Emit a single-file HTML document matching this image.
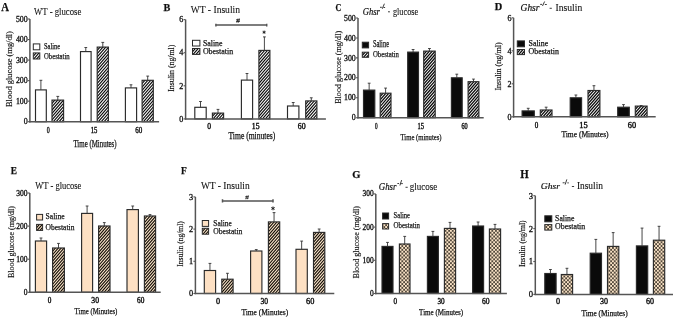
<!DOCTYPE html>
<html><head><meta charset="utf-8"><style>
html,body{margin:0;padding:0;background:#fff;}
svg{display:block;will-change:transform;}
text{font-family:"Liberation Serif", serif;}
</style></head><body>
<svg width="675" height="319" viewBox="0 0 675 319">
<rect width="675" height="319" fill="#fff"/>
<defs>
<pattern id="hw" patternUnits="userSpaceOnUse" width="2.2" height="10" patternTransform="rotate(41)"><rect width="2.2" height="10" fill="#fff"/><rect width="1.05" height="10" fill="#0d0d0d"/></pattern>
<pattern id="hp" patternUnits="userSpaceOnUse" width="2.2" height="10" patternTransform="rotate(41)"><rect width="2.2" height="10" fill="#fbe6cc"/><rect width="1.0" height="10" fill="#120c05"/></pattern>
<pattern id="ck" patternUnits="userSpaceOnUse" width="3.6" height="3.8"><rect width="3.6" height="3.8" fill="#fae3c6"/><rect x="0.15" y="0.15" width="1.55" height="1.6" fill="#150f08"/><rect x="1.95" y="2.05" width="1.55" height="1.6" fill="#150f08"/></pattern>
</defs>
<filter id="bl" x="0" y="0" width="675" height="319" filterUnits="userSpaceOnUse"><feGaussianBlur stdDeviation="0.35"/></filter>
<rect x="35.50" y="89.90" width="10.80" height="31.80" fill="#fff" stroke="#2a2a2a" stroke-width="1.15"/>
<clipPath id="c1"><rect x="52.00" y="100.10" width="11.60" height="21.60"/></clipPath>
<rect x="52.00" y="100.10" width="11.60" height="21.60" fill="#fff"/>
<path clip-path="url(#c1)" d="M51.00 101.25 L64.60 85.61 M51.00 104.55 L64.60 88.91 M51.00 107.85 L64.60 92.21 M51.00 111.15 L64.60 95.51 M51.00 114.45 L64.60 98.81 M51.00 117.75 L64.60 102.11 M51.00 121.05 L64.60 105.41 M51.00 124.35 L64.60 108.71 M51.00 127.65 L64.60 112.01 M51.00 130.95 L64.60 115.31 M51.00 134.25 L64.60 118.61 M51.00 137.55 L64.60 121.91 " stroke="#0d0d0d" stroke-width="1.15" fill="none"/>
<rect x="52.00" y="100.10" width="11.60" height="21.60" fill="none" stroke="#2a2a2a" stroke-width="1.15"/>
<rect x="80.50" y="51.60" width="10.60" height="70.10" fill="#fff" stroke="#2a2a2a" stroke-width="1.15"/>
<clipPath id="c2"><rect x="97.20" y="47.10" width="11.20" height="74.60"/></clipPath>
<rect x="97.20" y="47.10" width="11.20" height="74.60" fill="#fff"/>
<path clip-path="url(#c2)" d="M96.20 48.25 L109.40 33.07 M96.20 51.55 L109.40 36.37 M96.20 54.85 L109.40 39.67 M96.20 58.15 L109.40 42.97 M96.20 61.45 L109.40 46.27 M96.20 64.75 L109.40 49.57 M96.20 68.05 L109.40 52.87 M96.20 71.35 L109.40 56.17 M96.20 74.65 L109.40 59.47 M96.20 77.95 L109.40 62.77 M96.20 81.25 L109.40 66.07 M96.20 84.55 L109.40 69.37 M96.20 87.85 L109.40 72.67 M96.20 91.15 L109.40 75.97 M96.20 94.45 L109.40 79.27 M96.20 97.75 L109.40 82.57 M96.20 101.05 L109.40 85.87 M96.20 104.35 L109.40 89.17 M96.20 107.65 L109.40 92.47 M96.20 110.95 L109.40 95.77 M96.20 114.25 L109.40 99.07 M96.20 117.55 L109.40 102.37 M96.20 120.85 L109.40 105.67 M96.20 124.15 L109.40 108.97 M96.20 127.45 L109.40 112.27 M96.20 130.75 L109.40 115.57 M96.20 134.05 L109.40 118.87 M96.20 137.35 L109.40 122.17 " stroke="#0d0d0d" stroke-width="1.15" fill="none"/>
<rect x="97.20" y="47.10" width="11.20" height="74.60" fill="none" stroke="#2a2a2a" stroke-width="1.15"/>
<rect x="125.40" y="87.90" width="11.20" height="33.80" fill="#fff" stroke="#2a2a2a" stroke-width="1.15"/>
<clipPath id="c3"><rect x="142.10" y="80.30" width="11.20" height="41.40"/></clipPath>
<rect x="142.10" y="80.30" width="11.20" height="41.40" fill="#fff"/>
<path clip-path="url(#c3)" d="M141.10 81.45 L154.30 66.27 M141.10 84.75 L154.30 69.57 M141.10 88.05 L154.30 72.87 M141.10 91.35 L154.30 76.17 M141.10 94.65 L154.30 79.47 M141.10 97.95 L154.30 82.77 M141.10 101.25 L154.30 86.07 M141.10 104.55 L154.30 89.37 M141.10 107.85 L154.30 92.67 M141.10 111.15 L154.30 95.97 M141.10 114.45 L154.30 99.27 M141.10 117.75 L154.30 102.57 M141.10 121.05 L154.30 105.87 M141.10 124.35 L154.30 109.17 M141.10 127.65 L154.30 112.47 M141.10 130.95 L154.30 115.77 M141.10 134.25 L154.30 119.07 M141.10 137.55 L154.30 122.37 " stroke="#0d0d0d" stroke-width="1.15" fill="none"/>
<rect x="142.10" y="80.30" width="11.20" height="41.40" fill="none" stroke="#2a2a2a" stroke-width="1.15"/>
<rect x="33.30" y="43.90" width="6.50" height="5.90" fill="#fff" stroke="#2a2a2a" stroke-width="1.0"/>
<clipPath id="c4"><rect x="33.30" y="52.90" width="6.50" height="6.10"/></clipPath>
<rect x="33.30" y="52.90" width="6.50" height="6.10" fill="#fff"/>
<path clip-path="url(#c4)" d="M32.30 54.05 L40.80 44.27 M32.30 57.35 L40.80 47.57 M32.30 60.65 L40.80 50.87 M32.30 63.95 L40.80 54.17 M32.30 67.25 L40.80 57.47 M32.30 70.55 L40.80 60.77 " stroke="#0d0d0d" stroke-width="1.15" fill="none"/>
<rect x="33.30" y="52.90" width="6.50" height="6.10" fill="none" stroke="#2a2a2a" stroke-width="1.0"/>
<rect x="194.80" y="107.30" width="11.40" height="11.60" fill="#fff" stroke="#2a2a2a" stroke-width="1.15"/>
<clipPath id="c5"><rect x="212.40" y="113.10" width="11.20" height="5.80"/></clipPath>
<rect x="212.40" y="113.10" width="11.20" height="5.80" fill="#fff"/>
<path clip-path="url(#c5)" d="M211.40 114.25 L224.60 99.07 M211.40 117.55 L224.60 102.37 M211.40 120.85 L224.60 105.67 M211.40 124.15 L224.60 108.97 M211.40 127.45 L224.60 112.27 M211.40 130.75 L224.60 115.57 M211.40 134.05 L224.60 118.87 " stroke="#0d0d0d" stroke-width="1.15" fill="none"/>
<rect x="212.40" y="113.10" width="11.20" height="5.80" fill="none" stroke="#2a2a2a" stroke-width="1.15"/>
<rect x="241.40" y="80.10" width="11.20" height="38.80" fill="#fff" stroke="#2a2a2a" stroke-width="1.15"/>
<clipPath id="c6"><rect x="258.90" y="50.40" width="11.00" height="68.50"/></clipPath>
<rect x="258.90" y="50.40" width="11.00" height="68.50" fill="#fff"/>
<path clip-path="url(#c6)" d="M257.90 51.55 L270.90 36.60 M257.90 54.85 L270.90 39.90 M257.90 58.15 L270.90 43.20 M257.90 61.45 L270.90 46.50 M257.90 64.75 L270.90 49.80 M257.90 68.05 L270.90 53.10 M257.90 71.35 L270.90 56.40 M257.90 74.65 L270.90 59.70 M257.90 77.95 L270.90 63.00 M257.90 81.25 L270.90 66.30 M257.90 84.55 L270.90 69.60 M257.90 87.85 L270.90 72.90 M257.90 91.15 L270.90 76.20 M257.90 94.45 L270.90 79.50 M257.90 97.75 L270.90 82.80 M257.90 101.05 L270.90 86.10 M257.90 104.35 L270.90 89.40 M257.90 107.65 L270.90 92.70 M257.90 110.95 L270.90 96.00 M257.90 114.25 L270.90 99.30 M257.90 117.55 L270.90 102.60 M257.90 120.85 L270.90 105.90 M257.90 124.15 L270.90 109.20 M257.90 127.45 L270.90 112.50 M257.90 130.75 L270.90 115.80 M257.90 134.05 L270.90 119.10 " stroke="#0d0d0d" stroke-width="1.15" fill="none"/>
<rect x="258.90" y="50.40" width="11.00" height="68.50" fill="none" stroke="#2a2a2a" stroke-width="1.15"/>
<rect x="287.50" y="106.00" width="11.40" height="12.90" fill="#fff" stroke="#2a2a2a" stroke-width="1.15"/>
<clipPath id="c7"><rect x="305.70" y="100.90" width="11.20" height="18.00"/></clipPath>
<rect x="305.70" y="100.90" width="11.20" height="18.00" fill="#fff"/>
<path clip-path="url(#c7)" d="M304.70 102.05 L317.90 86.87 M304.70 105.35 L317.90 90.17 M304.70 108.65 L317.90 93.47 M304.70 111.95 L317.90 96.77 M304.70 115.25 L317.90 100.07 M304.70 118.55 L317.90 103.37 M304.70 121.85 L317.90 106.67 M304.70 125.15 L317.90 109.97 M304.70 128.45 L317.90 113.27 M304.70 131.75 L317.90 116.57 M304.70 135.05 L317.90 119.87 " stroke="#0d0d0d" stroke-width="1.15" fill="none"/>
<rect x="305.70" y="100.90" width="11.20" height="18.00" fill="none" stroke="#2a2a2a" stroke-width="1.15"/>
<rect x="192.50" y="40.30" width="7.40" height="5.70" fill="#fff" stroke="#2a2a2a" stroke-width="1.0"/>
<clipPath id="c8"><rect x="192.50" y="48.50" width="7.40" height="5.90"/></clipPath>
<rect x="192.50" y="48.50" width="7.40" height="5.90" fill="#fff"/>
<path clip-path="url(#c8)" d="M191.50 49.65 L200.90 38.84 M191.50 52.95 L200.90 42.14 M191.50 56.25 L200.90 45.44 M191.50 59.55 L200.90 48.74 M191.50 62.85 L200.90 52.04 M191.50 66.15 L200.90 55.34 " stroke="#0d0d0d" stroke-width="1.15" fill="none"/>
<rect x="192.50" y="48.50" width="7.40" height="5.90" fill="none" stroke="#2a2a2a" stroke-width="1.0"/>
<rect x="363.50" y="90.10" width="11.30" height="27.60" fill="#0a0a0a" stroke="#2a2a2a" stroke-width="1.15"/>
<clipPath id="c9"><rect x="380.20" y="93.20" width="10.80" height="24.50"/></clipPath>
<rect x="380.20" y="93.20" width="10.80" height="24.50" fill="#fff"/>
<path clip-path="url(#c9)" d="M379.20 94.35 L392.00 79.63 M379.20 97.65 L392.00 82.93 M379.20 100.95 L392.00 86.23 M379.20 104.25 L392.00 89.53 M379.20 107.55 L392.00 92.83 M379.20 110.85 L392.00 96.13 M379.20 114.15 L392.00 99.43 M379.20 117.45 L392.00 102.73 M379.20 120.75 L392.00 106.03 M379.20 124.05 L392.00 109.33 M379.20 127.35 L392.00 112.63 M379.20 130.65 L392.00 115.93 M379.20 133.95 L392.00 119.23 " stroke="#0d0d0d" stroke-width="1.3" fill="none"/>
<rect x="380.20" y="93.20" width="10.80" height="24.50" fill="none" stroke="#2a2a2a" stroke-width="1.15"/>
<rect x="407.70" y="52.10" width="10.80" height="65.60" fill="#0a0a0a" stroke="#2a2a2a" stroke-width="1.15"/>
<clipPath id="c10"><rect x="423.70" y="51.10" width="11.50" height="66.60"/></clipPath>
<rect x="423.70" y="51.10" width="11.50" height="66.60" fill="#fff"/>
<path clip-path="url(#c10)" d="M422.70 52.25 L436.20 36.73 M422.70 55.55 L436.20 40.02 M422.70 58.85 L436.20 43.32 M422.70 62.15 L436.20 46.62 M422.70 65.45 L436.20 49.92 M422.70 68.75 L436.20 53.22 M422.70 72.05 L436.20 56.52 M422.70 75.35 L436.20 59.82 M422.70 78.65 L436.20 63.12 M422.70 81.95 L436.20 66.42 M422.70 85.25 L436.20 69.72 M422.70 88.55 L436.20 73.02 M422.70 91.85 L436.20 76.32 M422.70 95.15 L436.20 79.62 M422.70 98.45 L436.20 82.92 M422.70 101.75 L436.20 86.22 M422.70 105.05 L436.20 89.52 M422.70 108.35 L436.20 92.82 M422.70 111.65 L436.20 96.12 M422.70 114.95 L436.20 99.42 M422.70 118.25 L436.20 102.72 M422.70 121.55 L436.20 106.02 M422.70 124.85 L436.20 109.32 M422.70 128.15 L436.20 112.62 M422.70 131.45 L436.20 115.92 M422.70 134.75 L436.20 119.22 " stroke="#0d0d0d" stroke-width="1.3" fill="none"/>
<rect x="423.70" y="51.10" width="11.50" height="66.60" fill="none" stroke="#2a2a2a" stroke-width="1.15"/>
<rect x="451.40" y="77.80" width="10.80" height="39.90" fill="#0a0a0a" stroke="#2a2a2a" stroke-width="1.15"/>
<clipPath id="c11"><rect x="468.10" y="81.70" width="10.80" height="36.00"/></clipPath>
<rect x="468.10" y="81.70" width="10.80" height="36.00" fill="#fff"/>
<path clip-path="url(#c11)" d="M467.10 82.85 L479.90 68.13 M467.10 86.15 L479.90 71.43 M467.10 89.45 L479.90 74.73 M467.10 92.75 L479.90 78.03 M467.10 96.05 L479.90 81.33 M467.10 99.35 L479.90 84.63 M467.10 102.65 L479.90 87.93 M467.10 105.95 L479.90 91.23 M467.10 109.25 L479.90 94.53 M467.10 112.55 L479.90 97.83 M467.10 115.85 L479.90 101.13 M467.10 119.15 L479.90 104.43 M467.10 122.45 L479.90 107.73 M467.10 125.75 L479.90 111.03 M467.10 129.05 L479.90 114.33 M467.10 132.35 L479.90 117.63 " stroke="#0d0d0d" stroke-width="1.3" fill="none"/>
<rect x="468.10" y="81.70" width="10.80" height="36.00" fill="none" stroke="#2a2a2a" stroke-width="1.15"/>
<rect x="362.30" y="42.20" width="6.30" height="5.70" fill="#0a0a0a" stroke="#2a2a2a" stroke-width="1.0"/>
<clipPath id="c12"><rect x="362.30" y="52.20" width="6.30" height="5.10"/></clipPath>
<rect x="362.30" y="52.20" width="6.30" height="5.10" fill="#fff"/>
<path clip-path="url(#c12)" d="M361.30 53.35 L369.60 43.80 M361.30 56.65 L369.60 47.10 M361.30 59.95 L369.60 50.40 M361.30 63.25 L369.60 53.70 M361.30 66.55 L369.60 57.00 " stroke="#0d0d0d" stroke-width="1.3" fill="none"/>
<rect x="362.30" y="52.20" width="6.30" height="5.10" fill="none" stroke="#2a2a2a" stroke-width="1.0"/>
<rect x="522.10" y="110.90" width="12.20" height="5.90" fill="#0a0a0a" stroke="#2a2a2a" stroke-width="1.15"/>
<clipPath id="c13"><rect x="540.30" y="110.00" width="11.70" height="6.80"/></clipPath>
<rect x="540.30" y="110.00" width="11.70" height="6.80" fill="#fff"/>
<path clip-path="url(#c13)" d="M539.30 111.15 L553.00 95.39 M539.30 114.45 L553.00 98.69 M539.30 117.75 L553.00 101.99 M539.30 121.05 L553.00 105.29 M539.30 124.35 L553.00 108.59 M539.30 127.65 L553.00 111.89 M539.30 130.95 L553.00 115.19 M539.30 134.25 L553.00 118.49 " stroke="#0d0d0d" stroke-width="1.3" fill="none"/>
<rect x="540.30" y="110.00" width="11.70" height="6.80" fill="none" stroke="#2a2a2a" stroke-width="1.15"/>
<rect x="570.20" y="97.80" width="11.40" height="19.00" fill="#0a0a0a" stroke="#2a2a2a" stroke-width="1.15"/>
<clipPath id="c14"><rect x="588.00" y="90.50" width="11.90" height="26.30"/></clipPath>
<rect x="588.00" y="90.50" width="11.90" height="26.30" fill="#fff"/>
<path clip-path="url(#c14)" d="M587.00 91.65 L600.90 75.67 M587.00 94.95 L600.90 78.97 M587.00 98.25 L600.90 82.27 M587.00 101.55 L600.90 85.57 M587.00 104.85 L600.90 88.87 M587.00 108.15 L600.90 92.17 M587.00 111.45 L600.90 95.47 M587.00 114.75 L600.90 98.77 M587.00 118.05 L600.90 102.06 M587.00 121.35 L600.90 105.37 M587.00 124.65 L600.90 108.66 M587.00 127.95 L600.90 111.97 M587.00 131.25 L600.90 115.26 M587.00 134.55 L600.90 118.56 " stroke="#0d0d0d" stroke-width="1.3" fill="none"/>
<rect x="588.00" y="90.50" width="11.90" height="26.30" fill="none" stroke="#2a2a2a" stroke-width="1.15"/>
<rect x="617.70" y="107.20" width="11.60" height="9.60" fill="#0a0a0a" stroke="#2a2a2a" stroke-width="1.15"/>
<clipPath id="c15"><rect x="635.30" y="106.10" width="11.80" height="10.70"/></clipPath>
<rect x="635.30" y="106.10" width="11.80" height="10.70" fill="#fff"/>
<path clip-path="url(#c15)" d="M634.30 107.25 L648.10 91.38 M634.30 110.55 L648.10 94.68 M634.30 113.85 L648.10 97.98 M634.30 117.15 L648.10 101.28 M634.30 120.45 L648.10 104.58 M634.30 123.75 L648.10 107.88 M634.30 127.05 L648.10 111.18 M634.30 130.35 L648.10 114.48 M634.30 133.65 L648.10 117.78 " stroke="#0d0d0d" stroke-width="1.3" fill="none"/>
<rect x="635.30" y="106.10" width="11.80" height="10.70" fill="none" stroke="#2a2a2a" stroke-width="1.15"/>
<rect x="517.30" y="40.90" width="7.20" height="5.90" fill="#0a0a0a" stroke="#2a2a2a" stroke-width="1.0"/>
<clipPath id="c16"><rect x="517.30" y="49.50" width="7.20" height="5.10"/></clipPath>
<rect x="517.30" y="49.50" width="7.20" height="5.10" fill="#fff"/>
<path clip-path="url(#c16)" d="M516.30 50.65 L525.50 40.07 M516.30 53.95 L525.50 43.37 M516.30 57.25 L525.50 46.67 M516.30 60.55 L525.50 49.97 M516.30 63.85 L525.50 53.27 M516.30 67.15 L525.50 56.57 " stroke="#0d0d0d" stroke-width="1.3" fill="none"/>
<rect x="517.30" y="49.50" width="7.20" height="5.10" fill="none" stroke="#2a2a2a" stroke-width="1.0"/>
<rect x="35.40" y="241.00" width="11.20" height="51.30" fill="#fde0c3" stroke="#2a2a2a" stroke-width="1.15"/>
<clipPath id="c17"><rect x="52.60" y="248.00" width="11.80" height="44.30"/></clipPath>
<rect x="52.60" y="248.00" width="11.80" height="44.30" fill="#fbe6cc"/>
<path clip-path="url(#c17)" d="M51.60 249.15 L65.40 233.28 M51.60 252.45 L65.40 236.58 M51.60 255.75 L65.40 239.88 M51.60 259.05 L65.40 243.18 M51.60 262.35 L65.40 246.48 M51.60 265.65 L65.40 249.78 M51.60 268.95 L65.40 253.08 M51.60 272.25 L65.40 256.38 M51.60 275.55 L65.40 259.68 M51.60 278.85 L65.40 262.98 M51.60 282.15 L65.40 266.28 M51.60 285.45 L65.40 269.58 M51.60 288.75 L65.40 272.88 M51.60 292.05 L65.40 276.18 M51.60 295.35 L65.40 279.48 M51.60 298.65 L65.40 282.78 M51.60 301.95 L65.40 286.08 M51.60 305.25 L65.40 289.38 M51.60 308.55 L65.40 292.68 " stroke="#120c05" stroke-width="1.1" fill="none"/>
<rect x="52.60" y="248.00" width="11.80" height="44.30" fill="none" stroke="#2a2a2a" stroke-width="1.15"/>
<rect x="81.60" y="213.40" width="11.00" height="78.90" fill="#fde0c3" stroke="#2a2a2a" stroke-width="1.15"/>
<clipPath id="c18"><rect x="98.60" y="226.00" width="11.40" height="66.30"/></clipPath>
<rect x="98.60" y="226.00" width="11.40" height="66.30" fill="#fbe6cc"/>
<path clip-path="url(#c18)" d="M97.60 227.15 L111.00 211.74 M97.60 230.45 L111.00 215.04 M97.60 233.75 L111.00 218.34 M97.60 237.05 L111.00 221.64 M97.60 240.35 L111.00 224.94 M97.60 243.65 L111.00 228.24 M97.60 246.95 L111.00 231.54 M97.60 250.25 L111.00 234.84 M97.60 253.55 L111.00 238.14 M97.60 256.85 L111.00 241.44 M97.60 260.15 L111.00 244.74 M97.60 263.45 L111.00 248.04 M97.60 266.75 L111.00 251.34 M97.60 270.05 L111.00 254.64 M97.60 273.35 L111.00 257.94 M97.60 276.65 L111.00 261.24 M97.60 279.95 L111.00 264.54 M97.60 283.25 L111.00 267.84 M97.60 286.55 L111.00 271.14 M97.60 289.85 L111.00 274.44 M97.60 293.15 L111.00 277.74 M97.60 296.45 L111.00 281.04 M97.60 299.75 L111.00 284.34 M97.60 303.05 L111.00 287.64 M97.60 306.35 L111.00 290.94 M97.60 309.65 L111.00 294.24 " stroke="#120c05" stroke-width="1.1" fill="none"/>
<rect x="98.60" y="226.00" width="11.40" height="66.30" fill="none" stroke="#2a2a2a" stroke-width="1.15"/>
<rect x="127.00" y="209.60" width="11.40" height="82.70" fill="#fde0c3" stroke="#2a2a2a" stroke-width="1.15"/>
<clipPath id="c19"><rect x="144.40" y="216.00" width="11.20" height="76.30"/></clipPath>
<rect x="144.40" y="216.00" width="11.20" height="76.30" fill="#fbe6cc"/>
<path clip-path="url(#c19)" d="M143.40 217.15 L156.60 201.97 M143.40 220.45 L156.60 205.27 M143.40 223.75 L156.60 208.57 M143.40 227.05 L156.60 211.87 M143.40 230.35 L156.60 215.17 M143.40 233.65 L156.60 218.47 M143.40 236.95 L156.60 221.77 M143.40 240.25 L156.60 225.07 M143.40 243.55 L156.60 228.37 M143.40 246.85 L156.60 231.67 M143.40 250.15 L156.60 234.97 M143.40 253.45 L156.60 238.27 M143.40 256.75 L156.60 241.57 M143.40 260.05 L156.60 244.87 M143.40 263.35 L156.60 248.17 M143.40 266.65 L156.60 251.47 M143.40 269.95 L156.60 254.77 M143.40 273.25 L156.60 258.07 M143.40 276.55 L156.60 261.37 M143.40 279.85 L156.60 264.67 M143.40 283.15 L156.60 267.97 M143.40 286.45 L156.60 271.27 M143.40 289.75 L156.60 274.57 M143.40 293.05 L156.60 277.87 M143.40 296.35 L156.60 281.17 M143.40 299.65 L156.60 284.47 M143.40 302.95 L156.60 287.77 M143.40 306.25 L156.60 291.07 M143.40 309.55 L156.60 294.37 " stroke="#120c05" stroke-width="1.1" fill="none"/>
<rect x="144.40" y="216.00" width="11.20" height="76.30" fill="none" stroke="#2a2a2a" stroke-width="1.15"/>
<rect x="36.60" y="214.40" width="6.00" height="5.60" fill="#fde0c3" stroke="#2a2a2a" stroke-width="1.0"/>
<clipPath id="c20"><rect x="36.60" y="224.40" width="6.00" height="6.00"/></clipPath>
<rect x="36.60" y="224.40" width="6.00" height="6.00" fill="#fbe6cc"/>
<path clip-path="url(#c20)" d="M35.60 225.55 L43.60 216.35 M35.60 228.85 L43.60 219.65 M35.60 232.15 L43.60 222.95 M35.60 235.45 L43.60 226.25 M35.60 238.75 L43.60 229.55 " stroke="#120c05" stroke-width="1.1" fill="none"/>
<rect x="36.60" y="224.40" width="6.00" height="6.00" fill="none" stroke="#2a2a2a" stroke-width="1.0"/>
<rect x="204.30" y="270.50" width="11.30" height="23.00" fill="#fde0c3" stroke="#2a2a2a" stroke-width="1.15"/>
<clipPath id="c21"><rect x="221.80" y="279.20" width="11.30" height="14.30"/></clipPath>
<rect x="221.80" y="279.20" width="11.30" height="14.30" fill="#fbe6cc"/>
<path clip-path="url(#c21)" d="M220.80 280.35 L234.10 265.06 M220.80 283.65 L234.10 268.36 M220.80 286.95 L234.10 271.66 M220.80 290.25 L234.10 274.96 M220.80 293.55 L234.10 278.26 M220.80 296.85 L234.10 281.56 M220.80 300.15 L234.10 284.86 M220.80 303.45 L234.10 288.16 M220.80 306.75 L234.10 291.46 M220.80 310.05 L234.10 294.76 " stroke="#120c05" stroke-width="1.1" fill="none"/>
<rect x="221.80" y="279.20" width="11.30" height="14.30" fill="none" stroke="#2a2a2a" stroke-width="1.15"/>
<rect x="250.60" y="251.00" width="11.30" height="42.50" fill="#fde0c3" stroke="#2a2a2a" stroke-width="1.15"/>
<clipPath id="c22"><rect x="268.40" y="221.90" width="11.30" height="71.60"/></clipPath>
<rect x="268.40" y="221.90" width="11.30" height="71.60" fill="#fbe6cc"/>
<path clip-path="url(#c22)" d="M267.40 223.05 L280.70 207.75 M267.40 226.35 L280.70 211.06 M267.40 229.65 L280.70 214.36 M267.40 232.95 L280.70 217.66 M267.40 236.25 L280.70 220.96 M267.40 239.55 L280.70 224.26 M267.40 242.85 L280.70 227.56 M267.40 246.15 L280.70 230.86 M267.40 249.45 L280.70 234.16 M267.40 252.75 L280.70 237.46 M267.40 256.05 L280.70 240.76 M267.40 259.35 L280.70 244.06 M267.40 262.65 L280.70 247.36 M267.40 265.95 L280.70 250.66 M267.40 269.25 L280.70 253.96 M267.40 272.55 L280.70 257.26 M267.40 275.85 L280.70 260.56 M267.40 279.15 L280.70 263.86 M267.40 282.45 L280.70 267.16 M267.40 285.75 L280.70 270.46 M267.40 289.05 L280.70 273.76 M267.40 292.35 L280.70 277.06 M267.40 295.65 L280.70 280.36 M267.40 298.95 L280.70 283.66 M267.40 302.25 L280.70 286.96 M267.40 305.55 L280.70 290.26 M267.40 308.85 L280.70 293.56 " stroke="#120c05" stroke-width="1.1" fill="none"/>
<rect x="268.40" y="221.90" width="11.30" height="71.60" fill="none" stroke="#2a2a2a" stroke-width="1.15"/>
<rect x="296.00" y="249.30" width="11.30" height="44.20" fill="#fde0c3" stroke="#2a2a2a" stroke-width="1.15"/>
<clipPath id="c23"><rect x="313.50" y="232.40" width="11.30" height="61.10"/></clipPath>
<rect x="313.50" y="232.40" width="11.30" height="61.10" fill="#fbe6cc"/>
<path clip-path="url(#c23)" d="M312.50 233.55 L325.80 218.25 M312.50 236.85 L325.80 221.56 M312.50 240.15 L325.80 224.86 M312.50 243.45 L325.80 228.16 M312.50 246.75 L325.80 231.46 M312.50 250.05 L325.80 234.76 M312.50 253.35 L325.80 238.06 M312.50 256.65 L325.80 241.36 M312.50 259.95 L325.80 244.66 M312.50 263.25 L325.80 247.96 M312.50 266.55 L325.80 251.26 M312.50 269.85 L325.80 254.56 M312.50 273.15 L325.80 257.86 M312.50 276.45 L325.80 261.16 M312.50 279.75 L325.80 264.46 M312.50 283.05 L325.80 267.76 M312.50 286.35 L325.80 271.06 M312.50 289.65 L325.80 274.36 M312.50 292.95 L325.80 277.66 M312.50 296.25 L325.80 280.96 M312.50 299.55 L325.80 284.26 M312.50 302.85 L325.80 287.56 M312.50 306.15 L325.80 290.86 M312.50 309.45 L325.80 294.16 " stroke="#120c05" stroke-width="1.1" fill="none"/>
<rect x="313.50" y="232.40" width="11.30" height="61.10" fill="none" stroke="#2a2a2a" stroke-width="1.15"/>
<rect x="202.30" y="220.50" width="6.30" height="5.90" fill="#fde0c3" stroke="#2a2a2a" stroke-width="1.0"/>
<clipPath id="c24"><rect x="202.30" y="228.30" width="6.30" height="5.90"/></clipPath>
<rect x="202.30" y="228.30" width="6.30" height="5.90" fill="#fbe6cc"/>
<path clip-path="url(#c24)" d="M201.30 229.45 L209.60 219.91 M201.30 232.75 L209.60 223.21 M201.30 236.05 L209.60 226.51 M201.30 239.35 L209.60 229.81 M201.30 242.65 L209.60 233.11 " stroke="#120c05" stroke-width="1.1" fill="none"/>
<rect x="202.30" y="228.30" width="6.30" height="5.90" fill="none" stroke="#2a2a2a" stroke-width="1.0"/>
<rect x="382.00" y="246.40" width="11.00" height="47.10" fill="#0a0a0a" stroke="#2a2a2a" stroke-width="1.15"/>
<rect x="399.40" y="244.00" width="10.60" height="49.50" fill="url(#ck)" stroke="#2a2a2a" stroke-width="1.15"/>
<rect x="427.40" y="236.40" width="11.00" height="57.10" fill="#0a0a0a" stroke="#2a2a2a" stroke-width="1.15"/>
<rect x="444.40" y="228.40" width="11.20" height="65.10" fill="url(#ck)" stroke="#2a2a2a" stroke-width="1.15"/>
<rect x="472.60" y="226.00" width="11.00" height="67.50" fill="#0a0a0a" stroke="#2a2a2a" stroke-width="1.15"/>
<rect x="489.40" y="229.00" width="11.20" height="64.50" fill="url(#ck)" stroke="#2a2a2a" stroke-width="1.15"/>
<rect x="382.60" y="213.00" width="6.00" height="6.00" fill="#0a0a0a" stroke="#2a2a2a" stroke-width="1.0"/>
<rect x="382.60" y="223.60" width="6.00" height="5.40" fill="url(#ck)" stroke="#2a2a2a" stroke-width="1.0"/>
<rect x="544.80" y="273.50" width="11.30" height="20.90" fill="#0a0a0a" stroke="#2a2a2a" stroke-width="1.15"/>
<rect x="561.30" y="274.50" width="11.30" height="19.90" fill="url(#ck)" stroke="#2a2a2a" stroke-width="1.15"/>
<rect x="590.20" y="253.20" width="11.30" height="41.20" fill="#0a0a0a" stroke="#2a2a2a" stroke-width="1.15"/>
<rect x="607.50" y="246.40" width="11.30" height="48.00" fill="url(#ck)" stroke="#2a2a2a" stroke-width="1.15"/>
<rect x="636.40" y="245.90" width="11.30" height="48.50" fill="#0a0a0a" stroke="#2a2a2a" stroke-width="1.15"/>
<rect x="653.40" y="240.20" width="11.30" height="54.20" fill="url(#ck)" stroke="#2a2a2a" stroke-width="1.15"/>
<rect x="544.80" y="215.80" width="7.00" height="6.00" fill="#0a0a0a" stroke="#2a2a2a" stroke-width="1.0"/>
<rect x="544.80" y="224.60" width="7.00" height="5.50" fill="url(#ck)" stroke="#2a2a2a" stroke-width="1.0"/>
<g filter="url(#bl)">
<line x1="40.90" y1="89.90" x2="40.90" y2="80.30" stroke="#333" stroke-width="0.9"/>
<line x1="39.50" y1="80.30" x2="42.30" y2="80.30" stroke="#333" stroke-width="0.9"/>
<line x1="57.80" y1="100.10" x2="57.80" y2="96.40" stroke="#333" stroke-width="0.9"/>
<line x1="56.40" y1="96.40" x2="59.20" y2="96.40" stroke="#333" stroke-width="0.9"/>
<line x1="85.80" y1="51.60" x2="85.80" y2="47.50" stroke="#333" stroke-width="0.9"/>
<line x1="84.40" y1="47.50" x2="87.20" y2="47.50" stroke="#333" stroke-width="0.9"/>
<line x1="102.80" y1="47.10" x2="102.80" y2="42.40" stroke="#333" stroke-width="0.9"/>
<line x1="101.40" y1="42.40" x2="104.20" y2="42.40" stroke="#333" stroke-width="0.9"/>
<line x1="131.00" y1="87.90" x2="131.00" y2="84.80" stroke="#333" stroke-width="0.9"/>
<line x1="129.60" y1="84.80" x2="132.40" y2="84.80" stroke="#333" stroke-width="0.9"/>
<line x1="147.70" y1="80.30" x2="147.70" y2="76.10" stroke="#333" stroke-width="0.9"/>
<line x1="146.30" y1="76.10" x2="149.10" y2="76.10" stroke="#333" stroke-width="0.9"/>
<line x1="29.90" y1="19.00" x2="29.90" y2="122.40" stroke="#555" stroke-width="1.5"/>
<line x1="29.20" y1="121.70" x2="159.10" y2="121.70" stroke="#555" stroke-width="1.5"/>
<line x1="27.90" y1="121.70" x2="29.90" y2="121.70" stroke="#555" stroke-width="1.1"/>
<line x1="27.90" y1="101.16" x2="29.90" y2="101.16" stroke="#555" stroke-width="1.1"/>
<line x1="27.90" y1="80.62" x2="29.90" y2="80.62" stroke="#555" stroke-width="1.1"/>
<line x1="27.90" y1="60.08" x2="29.90" y2="60.08" stroke="#555" stroke-width="1.1"/>
<line x1="27.90" y1="39.54" x2="29.90" y2="39.54" stroke="#555" stroke-width="1.1"/>
<line x1="27.90" y1="19.00" x2="29.90" y2="19.00" stroke="#555" stroke-width="1.1"/>
<text x="23.77" y="124.35" font-family='"Liberation Serif", serif' font-size="7.85" font-weight="normal" font-style="normal" textLength="3.93" lengthAdjust="spacingAndGlyphs" fill="#111" stroke="#111" stroke-width="0.3">0</text>
<text x="15.92" y="103.81" font-family='"Liberation Serif", serif' font-size="7.85" font-weight="normal" font-style="normal" textLength="11.78" lengthAdjust="spacingAndGlyphs" fill="#111" stroke="#111" stroke-width="0.3">100</text>
<text x="15.92" y="83.27" font-family='"Liberation Serif", serif' font-size="7.85" font-weight="normal" font-style="normal" textLength="11.78" lengthAdjust="spacingAndGlyphs" fill="#111" stroke="#111" stroke-width="0.3">200</text>
<text x="15.92" y="62.73" font-family='"Liberation Serif", serif' font-size="7.85" font-weight="normal" font-style="normal" textLength="11.78" lengthAdjust="spacingAndGlyphs" fill="#111" stroke="#111" stroke-width="0.3">300</text>
<text x="15.92" y="42.19" font-family='"Liberation Serif", serif' font-size="7.85" font-weight="normal" font-style="normal" textLength="11.78" lengthAdjust="spacingAndGlyphs" fill="#111" stroke="#111" stroke-width="0.3">400</text>
<text x="15.92" y="21.65" font-family='"Liberation Serif", serif' font-size="7.85" font-weight="normal" font-style="normal" textLength="11.78" lengthAdjust="spacingAndGlyphs" fill="#111" stroke="#111" stroke-width="0.3">500</text>
<text x="1.30" y="10.60" font-family='"Liberation Serif", serif' font-size="11.52" font-weight="bold" font-style="normal" textLength="7.70" lengthAdjust="spacingAndGlyphs" fill="#111" stroke="#111" stroke-width="0.25">A</text>
<text x="34.10" y="14.50" font-family='"Liberation Serif", serif' font-size="11.21" font-weight="normal" font-style="normal" textLength="47.20" lengthAdjust="spacingAndGlyphs" fill="#111" stroke="#111" stroke-width="0.1">WT - glucose</text>
<text x="44.00" y="49.00" font-family='"Liberation Serif", serif' font-size="8.94" font-weight="normal" font-style="normal" textLength="16.20" lengthAdjust="spacingAndGlyphs" fill="#111" stroke="#111" stroke-width="0.25">Saline</text>
<text x="44.00" y="58.50" font-family='"Liberation Serif", serif' font-size="8.94" font-weight="normal" font-style="normal" textLength="25.60" lengthAdjust="spacingAndGlyphs" fill="#111" stroke="#111" stroke-width="0.25">Obestatin</text>
<text x="46.80" y="132.70" font-family='"Liberation Serif", serif' font-size="8.74" font-weight="normal" font-style="normal" textLength="3.00" lengthAdjust="spacingAndGlyphs" fill="#111" stroke="#111" stroke-width="0.4">0</text>
<text x="90.80" y="132.70" font-family='"Liberation Serif", serif' font-size="8.74" font-weight="normal" font-style="normal" textLength="6.60" lengthAdjust="spacingAndGlyphs" fill="#111" stroke="#111" stroke-width="0.4">15</text>
<text x="135.30" y="132.70" font-family='"Liberation Serif", serif' font-size="8.74" font-weight="normal" font-style="normal" textLength="7.00" lengthAdjust="spacingAndGlyphs" fill="#111" stroke="#111" stroke-width="0.4">60</text>
<text x="73.40" y="146.90" font-family='"Liberation Serif", serif' font-size="9.85" font-weight="normal" font-style="normal" textLength="43.20" lengthAdjust="spacingAndGlyphs" fill="#111" stroke="#111" stroke-width="0.25">Time (Minutes)</text>
<text transform="translate(11.50,69.10) scale(1.007,1) rotate(-90)" x="0" y="0" text-anchor="middle" font-family='"Liberation Serif", serif' font-size="8.42" textLength="75.80" lengthAdjust="spacingAndGlyphs" fill="#111" stroke="#111" stroke-width="0.15">Blood glucose (mg/dl)</text>
<line x1="200.50" y1="107.30" x2="200.50" y2="101.50" stroke="#333" stroke-width="0.9"/>
<line x1="199.10" y1="101.50" x2="201.90" y2="101.50" stroke="#333" stroke-width="0.9"/>
<line x1="218.00" y1="113.10" x2="218.00" y2="109.40" stroke="#333" stroke-width="0.9"/>
<line x1="216.60" y1="109.40" x2="219.40" y2="109.40" stroke="#333" stroke-width="0.9"/>
<line x1="247.00" y1="80.10" x2="247.00" y2="73.50" stroke="#333" stroke-width="0.9"/>
<line x1="245.60" y1="73.50" x2="248.40" y2="73.50" stroke="#333" stroke-width="0.9"/>
<line x1="264.40" y1="50.40" x2="264.40" y2="36.90" stroke="#333" stroke-width="0.9"/>
<line x1="263.00" y1="36.90" x2="265.80" y2="36.90" stroke="#333" stroke-width="0.9"/>
<line x1="293.20" y1="106.00" x2="293.20" y2="102.50" stroke="#333" stroke-width="0.9"/>
<line x1="291.80" y1="102.50" x2="294.60" y2="102.50" stroke="#333" stroke-width="0.9"/>
<line x1="311.30" y1="100.90" x2="311.30" y2="97.80" stroke="#333" stroke-width="0.9"/>
<line x1="309.90" y1="97.80" x2="312.70" y2="97.80" stroke="#333" stroke-width="0.9"/>
<line x1="185.60" y1="19.60" x2="185.60" y2="119.60" stroke="#555" stroke-width="1.5"/>
<line x1="184.90" y1="118.90" x2="325.90" y2="118.90" stroke="#555" stroke-width="1.5"/>
<line x1="183.60" y1="118.90" x2="185.60" y2="118.90" stroke="#555" stroke-width="1.1"/>
<line x1="183.60" y1="85.80" x2="185.60" y2="85.80" stroke="#555" stroke-width="1.1"/>
<line x1="183.60" y1="52.70" x2="185.60" y2="52.70" stroke="#555" stroke-width="1.1"/>
<line x1="183.60" y1="19.60" x2="185.60" y2="19.60" stroke="#555" stroke-width="1.1"/>
<text x="179.33" y="121.65" font-family='"Liberation Serif", serif' font-size="8.15" font-weight="normal" font-style="normal" textLength="4.07" lengthAdjust="spacingAndGlyphs" fill="#111" stroke="#111" stroke-width="0.3">0</text>
<text x="179.33" y="88.55" font-family='"Liberation Serif", serif' font-size="8.15" font-weight="normal" font-style="normal" textLength="4.07" lengthAdjust="spacingAndGlyphs" fill="#111" stroke="#111" stroke-width="0.3">2</text>
<text x="179.33" y="55.45" font-family='"Liberation Serif", serif' font-size="8.15" font-weight="normal" font-style="normal" textLength="4.07" lengthAdjust="spacingAndGlyphs" fill="#111" stroke="#111" stroke-width="0.3">4</text>
<text x="179.33" y="22.35" font-family='"Liberation Serif", serif' font-size="8.15" font-weight="normal" font-style="normal" textLength="4.07" lengthAdjust="spacingAndGlyphs" fill="#111" stroke="#111" stroke-width="0.3">6</text>
<text x="163.60" y="10.70" font-family='"Liberation Serif", serif' font-size="10.76" font-weight="bold" font-style="normal" textLength="6.80" lengthAdjust="spacingAndGlyphs" fill="#111" stroke="#111" stroke-width="0.25">B</text>
<text x="190.80" y="12.90" font-family='"Liberation Serif", serif' font-size="10.76" font-weight="normal" font-style="normal" textLength="49.20" lengthAdjust="spacingAndGlyphs" fill="#111" stroke="#111" stroke-width="0.1">WT - Insulin</text>
<text x="202.90" y="45.60" font-family='"Liberation Serif", serif' font-size="8.94" font-weight="normal" font-style="normal" textLength="19.60" lengthAdjust="spacingAndGlyphs" fill="#111" stroke="#111" stroke-width="0.25">Saline</text>
<text x="202.90" y="54.20" font-family='"Liberation Serif", serif' font-size="8.94" font-weight="normal" font-style="normal" textLength="30.20" lengthAdjust="spacingAndGlyphs" fill="#111" stroke="#111" stroke-width="0.25">Obestatin</text>
<text x="207.30" y="129.10" font-family='"Liberation Serif", serif' font-size="8.00" font-weight="normal" font-style="normal" textLength="3.80" lengthAdjust="spacingAndGlyphs" fill="#111" stroke="#111" stroke-width="0.4">0</text>
<text x="251.80" y="129.10" font-family='"Liberation Serif", serif' font-size="8.00" font-weight="normal" font-style="normal" textLength="7.70" lengthAdjust="spacingAndGlyphs" fill="#111" stroke="#111" stroke-width="0.4">15</text>
<text x="297.80" y="129.10" font-family='"Liberation Serif", serif' font-size="8.00" font-weight="normal" font-style="normal" textLength="7.80" lengthAdjust="spacingAndGlyphs" fill="#111" stroke="#111" stroke-width="0.4">60</text>
<text x="228.50" y="138.90" font-family='"Liberation Serif", serif' font-size="9.39" font-weight="normal" font-style="normal" textLength="46.80" lengthAdjust="spacingAndGlyphs" fill="#111" stroke="#111" stroke-width="0.25">Time (minutes)</text>
<text transform="translate(174.10,68.20) scale(1.142,1) rotate(-90)" x="0" y="0" text-anchor="middle" font-family='"Liberation Serif", serif' font-size="7.83" textLength="47.20" lengthAdjust="spacingAndGlyphs" fill="#111" stroke="#111" stroke-width="0.15">Insulin (ng/ml)</text>
<path d="M215.9 25.1 H266.7 M215.9 23.8 V26.5 M266.7 23.8 V26.5" stroke="#555" stroke-width="1.5" fill="none"/>
<path d="M236.10 19.80 H239.90 M236.10 21.40 H239.90 M238.00 18.55 L236.80 22.65 M239.50 18.55 L238.30 22.65" stroke="#222" stroke-width="0.9" fill="none"/>
<path d="M264.10 30.55 L264.10 33.85 M262.67 31.38 L265.53 33.03 M265.53 31.38 L262.67 33.03 " stroke="#222" stroke-width="0.95" fill="none"/>
<line x1="369.15" y1="90.10" x2="369.15" y2="83.20" stroke="#333" stroke-width="0.9"/>
<line x1="367.75" y1="83.20" x2="370.55" y2="83.20" stroke="#333" stroke-width="0.9"/>
<line x1="385.60" y1="93.20" x2="385.60" y2="88.10" stroke="#333" stroke-width="0.9"/>
<line x1="384.20" y1="88.10" x2="387.00" y2="88.10" stroke="#333" stroke-width="0.9"/>
<line x1="413.10" y1="52.10" x2="413.10" y2="49.50" stroke="#333" stroke-width="0.9"/>
<line x1="411.70" y1="49.50" x2="414.50" y2="49.50" stroke="#333" stroke-width="0.9"/>
<line x1="429.45" y1="51.10" x2="429.45" y2="48.50" stroke="#333" stroke-width="0.9"/>
<line x1="428.05" y1="48.50" x2="430.85" y2="48.50" stroke="#333" stroke-width="0.9"/>
<line x1="456.80" y1="77.80" x2="456.80" y2="74.20" stroke="#333" stroke-width="0.9"/>
<line x1="455.40" y1="74.20" x2="458.20" y2="74.20" stroke="#333" stroke-width="0.9"/>
<line x1="473.50" y1="81.70" x2="473.50" y2="79.10" stroke="#333" stroke-width="0.9"/>
<line x1="472.10" y1="79.10" x2="474.90" y2="79.10" stroke="#333" stroke-width="0.9"/>
<line x1="358.00" y1="18.00" x2="358.00" y2="118.40" stroke="#555" stroke-width="1.5"/>
<line x1="357.30" y1="117.70" x2="483.70" y2="117.70" stroke="#555" stroke-width="1.5"/>
<line x1="356.00" y1="117.70" x2="358.00" y2="117.70" stroke="#555" stroke-width="1.1"/>
<line x1="356.00" y1="97.76" x2="358.00" y2="97.76" stroke="#555" stroke-width="1.1"/>
<line x1="356.00" y1="77.82" x2="358.00" y2="77.82" stroke="#555" stroke-width="1.1"/>
<line x1="356.00" y1="57.88" x2="358.00" y2="57.88" stroke="#555" stroke-width="1.1"/>
<line x1="356.00" y1="37.94" x2="358.00" y2="37.94" stroke="#555" stroke-width="1.1"/>
<line x1="356.00" y1="18.00" x2="358.00" y2="18.00" stroke="#555" stroke-width="1.1"/>
<text x="351.87" y="120.35" font-family='"Liberation Serif", serif' font-size="7.85" font-weight="normal" font-style="normal" textLength="3.93" lengthAdjust="spacingAndGlyphs" fill="#111" stroke="#111" stroke-width="0.3">0</text>
<text x="344.02" y="100.41" font-family='"Liberation Serif", serif' font-size="7.85" font-weight="normal" font-style="normal" textLength="11.78" lengthAdjust="spacingAndGlyphs" fill="#111" stroke="#111" stroke-width="0.3">100</text>
<text x="344.02" y="80.47" font-family='"Liberation Serif", serif' font-size="7.85" font-weight="normal" font-style="normal" textLength="11.78" lengthAdjust="spacingAndGlyphs" fill="#111" stroke="#111" stroke-width="0.3">200</text>
<text x="344.02" y="60.53" font-family='"Liberation Serif", serif' font-size="7.85" font-weight="normal" font-style="normal" textLength="11.78" lengthAdjust="spacingAndGlyphs" fill="#111" stroke="#111" stroke-width="0.3">300</text>
<text x="344.02" y="40.59" font-family='"Liberation Serif", serif' font-size="7.85" font-weight="normal" font-style="normal" textLength="11.78" lengthAdjust="spacingAndGlyphs" fill="#111" stroke="#111" stroke-width="0.3">400</text>
<text x="344.02" y="20.65" font-family='"Liberation Serif", serif' font-size="7.85" font-weight="normal" font-style="normal" textLength="11.78" lengthAdjust="spacingAndGlyphs" fill="#111" stroke="#111" stroke-width="0.3">500</text>
<text x="335.50" y="10.60" font-family='"Liberation Serif", serif' font-size="10.30" font-weight="bold" font-style="normal" textLength="5.80" lengthAdjust="spacingAndGlyphs" fill="#111" stroke="#111" stroke-width="0.25">C</text>
<text x="362.80" y="14.50" font-family='"Liberation Sans", sans-serif' font-size="9.36" font-weight="normal" font-style="italic" textLength="17.10" lengthAdjust="spacingAndGlyphs" fill="#111" stroke="#111" stroke-width="0.2">Ghsr</text>
<text x="392.90" y="14.50" font-family='"Liberation Serif", serif' font-size="10.15" font-weight="normal" font-style="normal" textLength="25.40" lengthAdjust="spacingAndGlyphs" fill="#111" stroke="#111" stroke-width="0.1">glucose</text>
<text x="372.90" y="46.80" font-family='"Liberation Serif", serif' font-size="9.39" font-weight="normal" font-style="normal" textLength="16.10" lengthAdjust="spacingAndGlyphs" fill="#111" stroke="#111" stroke-width="0.25">Saline</text>
<text x="372.90" y="56.60" font-family='"Liberation Serif", serif' font-size="8.94" font-weight="normal" font-style="normal" textLength="25.90" lengthAdjust="spacingAndGlyphs" fill="#111" stroke="#111" stroke-width="0.25">Obestatin</text>
<text x="375.10" y="129.10" font-family='"Liberation Serif", serif' font-size="8.00" font-weight="normal" font-style="normal" textLength="2.60" lengthAdjust="spacingAndGlyphs" fill="#111" stroke="#111" stroke-width="0.4">0</text>
<text x="417.50" y="129.10" font-family='"Liberation Serif", serif' font-size="8.00" font-weight="normal" font-style="normal" textLength="6.50" lengthAdjust="spacingAndGlyphs" fill="#111" stroke="#111" stroke-width="0.4">15</text>
<text x="461.50" y="129.10" font-family='"Liberation Serif", serif' font-size="8.00" font-weight="normal" font-style="normal" textLength="6.20" lengthAdjust="spacingAndGlyphs" fill="#111" stroke="#111" stroke-width="0.4">60</text>
<text x="400.50" y="139.50" font-family='"Liberation Serif", serif' font-size="9.09" font-weight="normal" font-style="normal" textLength="41.10" lengthAdjust="spacingAndGlyphs" fill="#111" stroke="#111" stroke-width="0.25">Time (minutes)</text>
<text transform="translate(340.50,67.35) scale(0.991,1) rotate(-90)" x="0" y="0" text-anchor="middle" font-family='"Liberation Serif", serif' font-size="8.10" textLength="72.90" lengthAdjust="spacingAndGlyphs" fill="#111" stroke="#111" stroke-width="0.15">Blood glucose (mg/dl)</text>
<path d="M380.0 7.3 H381.8 M384.4 3.7 L382.3 8.8 M383.5 7.5 H385.1 M388 11.8 H389.9" stroke="#1a1a1a" stroke-width="0.85" fill="none"/>
<line x1="528.20" y1="110.90" x2="528.20" y2="108.30" stroke="#333" stroke-width="0.9"/>
<line x1="526.80" y1="108.30" x2="529.60" y2="108.30" stroke="#333" stroke-width="0.9"/>
<line x1="546.15" y1="110.00" x2="546.15" y2="107.20" stroke="#333" stroke-width="0.9"/>
<line x1="544.75" y1="107.20" x2="547.55" y2="107.20" stroke="#333" stroke-width="0.9"/>
<line x1="575.90" y1="97.80" x2="575.90" y2="95.00" stroke="#333" stroke-width="0.9"/>
<line x1="574.50" y1="95.00" x2="577.30" y2="95.00" stroke="#333" stroke-width="0.9"/>
<line x1="593.95" y1="90.50" x2="593.95" y2="85.70" stroke="#333" stroke-width="0.9"/>
<line x1="592.55" y1="85.70" x2="595.35" y2="85.70" stroke="#333" stroke-width="0.9"/>
<line x1="623.50" y1="107.20" x2="623.50" y2="104.60" stroke="#333" stroke-width="0.9"/>
<line x1="622.10" y1="104.60" x2="624.90" y2="104.60" stroke="#333" stroke-width="0.9"/>
<line x1="641.20" y1="106.10" x2="641.20" y2="105.50" stroke="#333" stroke-width="0.9"/>
<line x1="639.80" y1="105.50" x2="642.60" y2="105.50" stroke="#333" stroke-width="0.9"/>
<line x1="513.60" y1="17.80" x2="513.60" y2="117.50" stroke="#555" stroke-width="1.5"/>
<line x1="512.90" y1="116.80" x2="655.70" y2="116.80" stroke="#555" stroke-width="1.5"/>
<line x1="511.60" y1="116.80" x2="513.60" y2="116.80" stroke="#555" stroke-width="1.1"/>
<line x1="511.60" y1="83.80" x2="513.60" y2="83.80" stroke="#555" stroke-width="1.1"/>
<line x1="511.60" y1="50.80" x2="513.60" y2="50.80" stroke="#555" stroke-width="1.1"/>
<line x1="511.60" y1="17.80" x2="513.60" y2="17.80" stroke="#555" stroke-width="1.1"/>
<text x="507.40" y="119.50" font-family='"Liberation Serif", serif' font-size="8.00" font-weight="normal" font-style="normal" textLength="4.00" lengthAdjust="spacingAndGlyphs" fill="#111" stroke="#111" stroke-width="0.3">0</text>
<text x="507.40" y="86.50" font-family='"Liberation Serif", serif' font-size="8.00" font-weight="normal" font-style="normal" textLength="4.00" lengthAdjust="spacingAndGlyphs" fill="#111" stroke="#111" stroke-width="0.3">2</text>
<text x="507.40" y="53.50" font-family='"Liberation Serif", serif' font-size="8.00" font-weight="normal" font-style="normal" textLength="4.00" lengthAdjust="spacingAndGlyphs" fill="#111" stroke="#111" stroke-width="0.3">4</text>
<text x="507.40" y="20.50" font-family='"Liberation Serif", serif' font-size="8.00" font-weight="normal" font-style="normal" textLength="4.00" lengthAdjust="spacingAndGlyphs" fill="#111" stroke="#111" stroke-width="0.3">6</text>
<text x="494.70" y="10.30" font-family='"Liberation Serif", serif' font-size="9.85" font-weight="bold" font-style="normal" textLength="7.50" lengthAdjust="spacingAndGlyphs" fill="#111" stroke="#111" stroke-width="0.25">D</text>
<text x="520.60" y="11.10" font-family='"Liberation Sans", sans-serif' font-size="9.36" font-weight="normal" font-style="italic" textLength="18.80" lengthAdjust="spacingAndGlyphs" fill="#111" stroke="#111" stroke-width="0.2">Ghsr</text>
<text x="555.60" y="11.10" font-family='"Liberation Serif", serif' font-size="10.15" font-weight="normal" font-style="normal" textLength="26.60" lengthAdjust="spacingAndGlyphs" fill="#111" stroke="#111" stroke-width="0.1">Insulin</text>
<text x="528.50" y="45.60" font-family='"Liberation Serif", serif' font-size="8.94" font-weight="normal" font-style="normal" textLength="19.70" lengthAdjust="spacingAndGlyphs" fill="#111" stroke="#111" stroke-width="0.25">Saline</text>
<text x="528.50" y="54.20" font-family='"Liberation Serif", serif' font-size="8.94" font-weight="normal" font-style="normal" textLength="30.40" lengthAdjust="spacingAndGlyphs" fill="#111" stroke="#111" stroke-width="0.25">Obestatin</text>
<text x="534.80" y="127.60" font-family='"Liberation Serif", serif' font-size="8.00" font-weight="normal" font-style="normal" textLength="3.50" lengthAdjust="spacingAndGlyphs" fill="#111" stroke="#111" stroke-width="0.4">0</text>
<text x="579.20" y="127.60" font-family='"Liberation Serif", serif' font-size="8.00" font-weight="normal" font-style="normal" textLength="8.40" lengthAdjust="spacingAndGlyphs" fill="#111" stroke="#111" stroke-width="0.4">15</text>
<text x="627.80" y="127.60" font-family='"Liberation Serif", serif' font-size="8.00" font-weight="normal" font-style="normal" textLength="8.30" lengthAdjust="spacingAndGlyphs" fill="#111" stroke="#111" stroke-width="0.4">60</text>
<text x="561.40" y="137.00" font-family='"Liberation Serif", serif' font-size="8.48" font-weight="normal" font-style="normal" textLength="47.20" lengthAdjust="spacingAndGlyphs" fill="#111" stroke="#111" stroke-width="0.25">Time (Minutes)</text>
<text transform="translate(501.10,66.50) scale(1.061,1) rotate(-90)" x="0" y="0" text-anchor="middle" font-family='"Liberation Serif", serif' font-size="7.99" textLength="48.20" lengthAdjust="spacingAndGlyphs" fill="#111" stroke="#111" stroke-width="0.15">Insulin (ng/ml)</text>
<path d="M540.2 4.4 H542.1 M544.6 1.5 L542.5 6.0 M544.9 4.5 H546.8 M549.6 8.3 H551.8" stroke="#1a1a1a" stroke-width="0.85" fill="none"/>
<line x1="41.00" y1="241.00" x2="41.00" y2="238.00" stroke="#333" stroke-width="0.9"/>
<line x1="39.60" y1="238.00" x2="42.40" y2="238.00" stroke="#333" stroke-width="0.9"/>
<line x1="58.50" y1="248.00" x2="58.50" y2="243.40" stroke="#333" stroke-width="0.9"/>
<line x1="57.10" y1="243.40" x2="59.90" y2="243.40" stroke="#333" stroke-width="0.9"/>
<line x1="87.10" y1="213.40" x2="87.10" y2="206.00" stroke="#333" stroke-width="0.9"/>
<line x1="85.70" y1="206.00" x2="88.50" y2="206.00" stroke="#333" stroke-width="0.9"/>
<line x1="104.30" y1="226.00" x2="104.30" y2="222.60" stroke="#333" stroke-width="0.9"/>
<line x1="102.90" y1="222.60" x2="105.70" y2="222.60" stroke="#333" stroke-width="0.9"/>
<line x1="132.70" y1="209.60" x2="132.70" y2="206.00" stroke="#333" stroke-width="0.9"/>
<line x1="131.30" y1="206.00" x2="134.10" y2="206.00" stroke="#333" stroke-width="0.9"/>
<line x1="150.00" y1="216.00" x2="150.00" y2="214.60" stroke="#333" stroke-width="0.9"/>
<line x1="148.60" y1="214.60" x2="151.40" y2="214.60" stroke="#333" stroke-width="0.9"/>
<line x1="29.80" y1="193.00" x2="29.80" y2="293.00" stroke="#555" stroke-width="1.5"/>
<line x1="29.10" y1="292.30" x2="160.70" y2="292.30" stroke="#555" stroke-width="1.5"/>
<line x1="27.80" y1="292.30" x2="29.80" y2="292.30" stroke="#555" stroke-width="1.1"/>
<line x1="27.80" y1="259.20" x2="29.80" y2="259.20" stroke="#555" stroke-width="1.1"/>
<line x1="27.80" y1="226.10" x2="29.80" y2="226.10" stroke="#555" stroke-width="1.1"/>
<line x1="27.80" y1="193.00" x2="29.80" y2="193.00" stroke="#555" stroke-width="1.1"/>
<text x="23.82" y="294.85" font-family='"Liberation Serif", serif' font-size="7.56" font-weight="normal" font-style="normal" textLength="3.78" lengthAdjust="spacingAndGlyphs" fill="#111" stroke="#111" stroke-width="0.3">0</text>
<text x="16.27" y="261.75" font-family='"Liberation Serif", serif' font-size="7.56" font-weight="normal" font-style="normal" textLength="11.33" lengthAdjust="spacingAndGlyphs" fill="#111" stroke="#111" stroke-width="0.3">100</text>
<text x="16.27" y="228.65" font-family='"Liberation Serif", serif' font-size="7.56" font-weight="normal" font-style="normal" textLength="11.33" lengthAdjust="spacingAndGlyphs" fill="#111" stroke="#111" stroke-width="0.3">200</text>
<text x="16.27" y="195.55" font-family='"Liberation Serif", serif' font-size="7.56" font-weight="normal" font-style="normal" textLength="11.33" lengthAdjust="spacingAndGlyphs" fill="#111" stroke="#111" stroke-width="0.3">300</text>
<text x="10.70" y="173.70" font-family='"Liberation Serif", serif' font-size="10.61" font-weight="bold" font-style="normal" textLength="6.20" lengthAdjust="spacingAndGlyphs" fill="#111" stroke="#111" stroke-width="0.25">E</text>
<text x="35.30" y="188.70" font-family='"Liberation Serif", serif' font-size="10.15" font-weight="normal" font-style="normal" textLength="46.00" lengthAdjust="spacingAndGlyphs" fill="#111" stroke="#111" stroke-width="0.1">WT - glucose</text>
<text x="45.60" y="219.40" font-family='"Liberation Serif", serif' font-size="9.09" font-weight="normal" font-style="normal" textLength="19.00" lengthAdjust="spacingAndGlyphs" fill="#111" stroke="#111" stroke-width="0.25">Saline</text>
<text x="45.60" y="229.60" font-family='"Liberation Serif", serif' font-size="9.09" font-weight="normal" font-style="normal" textLength="28.80" lengthAdjust="spacingAndGlyphs" fill="#111" stroke="#111" stroke-width="0.25">Obestatin</text>
<text x="47.80" y="302.70" font-family='"Liberation Serif", serif' font-size="8.00" font-weight="normal" font-style="normal" textLength="3.60" lengthAdjust="spacingAndGlyphs" fill="#111" stroke="#111" stroke-width="0.4">0</text>
<text x="91.30" y="302.70" font-family='"Liberation Serif", serif' font-size="8.00" font-weight="normal" font-style="normal" textLength="7.70" lengthAdjust="spacingAndGlyphs" fill="#111" stroke="#111" stroke-width="0.4">30</text>
<text x="137.00" y="302.70" font-family='"Liberation Serif", serif' font-size="8.00" font-weight="normal" font-style="normal" textLength="7.30" lengthAdjust="spacingAndGlyphs" fill="#111" stroke="#111" stroke-width="0.4">60</text>
<text x="74.60" y="313.60" font-family='"Liberation Serif", serif' font-size="8.64" font-weight="normal" font-style="normal" textLength="42.80" lengthAdjust="spacingAndGlyphs" fill="#111" stroke="#111" stroke-width="0.25">Time (Minutes)</text>
<text transform="translate(13.60,242.00) scale(1.004,1) rotate(-90)" x="0" y="0" text-anchor="middle" font-family='"Liberation Serif", serif' font-size="8.00" textLength="72.00" lengthAdjust="spacingAndGlyphs" fill="#111" stroke="#111" stroke-width="0.15">Blood glucose (mg/dl)</text>
<line x1="209.95" y1="270.50" x2="209.95" y2="263.40" stroke="#333" stroke-width="0.9"/>
<line x1="208.55" y1="263.40" x2="211.35" y2="263.40" stroke="#333" stroke-width="0.9"/>
<line x1="227.45" y1="279.20" x2="227.45" y2="273.30" stroke="#333" stroke-width="0.9"/>
<line x1="226.05" y1="273.30" x2="228.85" y2="273.30" stroke="#333" stroke-width="0.9"/>
<line x1="256.25" y1="251.00" x2="256.25" y2="249.60" stroke="#333" stroke-width="0.9"/>
<line x1="254.85" y1="249.60" x2="257.65" y2="249.60" stroke="#333" stroke-width="0.9"/>
<line x1="274.05" y1="221.90" x2="274.05" y2="212.60" stroke="#333" stroke-width="0.9"/>
<line x1="272.65" y1="212.60" x2="275.45" y2="212.60" stroke="#333" stroke-width="0.9"/>
<line x1="301.65" y1="249.30" x2="301.65" y2="241.10" stroke="#333" stroke-width="0.9"/>
<line x1="300.25" y1="241.10" x2="303.05" y2="241.10" stroke="#333" stroke-width="0.9"/>
<line x1="319.15" y1="232.40" x2="319.15" y2="229.00" stroke="#333" stroke-width="0.9"/>
<line x1="317.75" y1="229.00" x2="320.55" y2="229.00" stroke="#333" stroke-width="0.9"/>
<line x1="195.40" y1="196.90" x2="195.40" y2="294.20" stroke="#555" stroke-width="1.5"/>
<line x1="194.70" y1="293.50" x2="334.30" y2="293.50" stroke="#555" stroke-width="1.5"/>
<line x1="193.40" y1="293.50" x2="195.40" y2="293.50" stroke="#555" stroke-width="1.1"/>
<line x1="193.40" y1="261.30" x2="195.40" y2="261.30" stroke="#555" stroke-width="1.1"/>
<line x1="193.40" y1="229.10" x2="195.40" y2="229.10" stroke="#555" stroke-width="1.1"/>
<line x1="193.40" y1="196.90" x2="195.40" y2="196.90" stroke="#555" stroke-width="1.1"/>
<text x="189.05" y="296.30" font-family='"Liberation Serif", serif' font-size="8.30" font-weight="normal" font-style="normal" textLength="4.15" lengthAdjust="spacingAndGlyphs" fill="#111" stroke="#111" stroke-width="0.3">0</text>
<text x="189.05" y="264.10" font-family='"Liberation Serif", serif' font-size="8.30" font-weight="normal" font-style="normal" textLength="4.15" lengthAdjust="spacingAndGlyphs" fill="#111" stroke="#111" stroke-width="0.3">1</text>
<text x="189.05" y="231.90" font-family='"Liberation Serif", serif' font-size="8.30" font-weight="normal" font-style="normal" textLength="4.15" lengthAdjust="spacingAndGlyphs" fill="#111" stroke="#111" stroke-width="0.3">2</text>
<text x="189.05" y="199.70" font-family='"Liberation Serif", serif' font-size="8.30" font-weight="normal" font-style="normal" textLength="4.15" lengthAdjust="spacingAndGlyphs" fill="#111" stroke="#111" stroke-width="0.3">3</text>
<text x="180.90" y="173.70" font-family='"Liberation Serif", serif' font-size="10.61" font-weight="bold" font-style="normal" textLength="5.80" lengthAdjust="spacingAndGlyphs" fill="#111" stroke="#111" stroke-width="0.25">F</text>
<text x="200.90" y="188.70" font-family='"Liberation Serif", serif' font-size="10.61" font-weight="normal" font-style="normal" textLength="48.80" lengthAdjust="spacingAndGlyphs" fill="#111" stroke="#111" stroke-width="0.1">WT - Insulin</text>
<text x="213.30" y="225.60" font-family='"Liberation Serif", serif' font-size="8.94" font-weight="normal" font-style="normal" textLength="18.40" lengthAdjust="spacingAndGlyphs" fill="#111" stroke="#111" stroke-width="0.25">Saline</text>
<text x="213.30" y="233.80" font-family='"Liberation Serif", serif' font-size="8.94" font-weight="normal" font-style="normal" textLength="29.00" lengthAdjust="spacingAndGlyphs" fill="#111" stroke="#111" stroke-width="0.25">Obestatin</text>
<text x="216.00" y="303.90" font-family='"Liberation Serif", serif' font-size="8.74" font-weight="normal" font-style="normal" textLength="4.10" lengthAdjust="spacingAndGlyphs" fill="#111" stroke="#111" stroke-width="0.4">0</text>
<text x="260.50" y="303.90" font-family='"Liberation Serif", serif' font-size="8.74" font-weight="normal" font-style="normal" textLength="7.60" lengthAdjust="spacingAndGlyphs" fill="#111" stroke="#111" stroke-width="0.4">30</text>
<text x="306.00" y="303.90" font-family='"Liberation Serif", serif' font-size="8.74" font-weight="normal" font-style="normal" textLength="8.30" lengthAdjust="spacingAndGlyphs" fill="#111" stroke="#111" stroke-width="0.4">60</text>
<text x="241.40" y="315.20" font-family='"Liberation Serif", serif' font-size="8.48" font-weight="normal" font-style="normal" textLength="46.80" lengthAdjust="spacingAndGlyphs" fill="#111" stroke="#111" stroke-width="0.25">Time (Minutes)</text>
<text transform="translate(182.80,243.95) scale(1.120,1) rotate(-90)" x="0" y="0" text-anchor="middle" font-family='"Liberation Serif", serif' font-size="7.58" textLength="45.70" lengthAdjust="spacingAndGlyphs" fill="#111" stroke="#111" stroke-width="0.15">Insulin (ng/ml)</text>
<path d="M222.5 201 H273 M222.5 199.2 V202.6 M273 199.2 V202.6" stroke="#555" stroke-width="1.5" fill="none"/>
<path d="M245.30 196.50 H248.70 M245.30 198.10 H248.70 M247.00 195.40 L245.80 199.20 M248.50 195.40 L247.30 199.20" stroke="#222" stroke-width="0.75" fill="none"/>
<path d="M273.00 206.50 L273.00 210.30 M271.35 207.45 L274.65 209.35 M274.65 207.45 L271.35 209.35 " stroke="#222" stroke-width="1.0" fill="none"/>
<line x1="387.50" y1="246.40" x2="387.50" y2="242.40" stroke="#333" stroke-width="0.9"/>
<line x1="386.10" y1="242.40" x2="388.90" y2="242.40" stroke="#333" stroke-width="0.9"/>
<line x1="404.70" y1="244.00" x2="404.70" y2="236.40" stroke="#333" stroke-width="0.9"/>
<line x1="403.30" y1="236.40" x2="406.10" y2="236.40" stroke="#333" stroke-width="0.9"/>
<line x1="432.90" y1="236.40" x2="432.90" y2="231.40" stroke="#333" stroke-width="0.9"/>
<line x1="431.50" y1="231.40" x2="434.30" y2="231.40" stroke="#333" stroke-width="0.9"/>
<line x1="450.00" y1="228.40" x2="450.00" y2="222.40" stroke="#333" stroke-width="0.9"/>
<line x1="448.60" y1="222.40" x2="451.40" y2="222.40" stroke="#333" stroke-width="0.9"/>
<line x1="478.10" y1="226.00" x2="478.10" y2="222.00" stroke="#333" stroke-width="0.9"/>
<line x1="476.70" y1="222.00" x2="479.50" y2="222.00" stroke="#333" stroke-width="0.9"/>
<line x1="495.00" y1="229.00" x2="495.00" y2="224.40" stroke="#333" stroke-width="0.9"/>
<line x1="493.60" y1="224.40" x2="496.40" y2="224.40" stroke="#333" stroke-width="0.9"/>
<line x1="375.80" y1="193.90" x2="375.80" y2="294.20" stroke="#555" stroke-width="1.5"/>
<line x1="375.10" y1="293.50" x2="506.90" y2="293.50" stroke="#555" stroke-width="1.5"/>
<line x1="373.80" y1="293.50" x2="375.80" y2="293.50" stroke="#555" stroke-width="1.1"/>
<line x1="373.80" y1="260.30" x2="375.80" y2="260.30" stroke="#555" stroke-width="1.1"/>
<line x1="373.80" y1="227.10" x2="375.80" y2="227.10" stroke="#555" stroke-width="1.1"/>
<line x1="373.80" y1="193.90" x2="375.80" y2="193.90" stroke="#555" stroke-width="1.1"/>
<text x="369.90" y="296.00" font-family='"Liberation Serif", serif' font-size="7.41" font-weight="normal" font-style="normal" textLength="3.70" lengthAdjust="spacingAndGlyphs" fill="#111" stroke="#111" stroke-width="0.3">0</text>
<text x="362.49" y="262.80" font-family='"Liberation Serif", serif' font-size="7.41" font-weight="normal" font-style="normal" textLength="11.11" lengthAdjust="spacingAndGlyphs" fill="#111" stroke="#111" stroke-width="0.3">100</text>
<text x="362.49" y="229.60" font-family='"Liberation Serif", serif' font-size="7.41" font-weight="normal" font-style="normal" textLength="11.11" lengthAdjust="spacingAndGlyphs" fill="#111" stroke="#111" stroke-width="0.3">200</text>
<text x="362.49" y="196.40" font-family='"Liberation Serif", serif' font-size="7.41" font-weight="normal" font-style="normal" textLength="11.11" lengthAdjust="spacingAndGlyphs" fill="#111" stroke="#111" stroke-width="0.3">300</text>
<text x="352.30" y="178.40" font-family='"Liberation Serif", serif' font-size="10.76" font-weight="bold" font-style="normal" textLength="8.20" lengthAdjust="spacingAndGlyphs" fill="#111" stroke="#111" stroke-width="0.25">G</text>
<text x="378.80" y="190.00" font-family='"Liberation Sans", sans-serif' font-size="9.78" font-weight="normal" font-style="italic" textLength="17.60" lengthAdjust="spacingAndGlyphs" fill="#111" stroke="#111" stroke-width="0.2">Ghsr</text>
<text x="409.70" y="190.00" font-family='"Liberation Serif", serif' font-size="10.61" font-weight="normal" font-style="normal" textLength="27.50" lengthAdjust="spacingAndGlyphs" fill="#111" stroke="#111" stroke-width="0.1">glucose</text>
<text x="393.60" y="218.40" font-family='"Liberation Serif", serif' font-size="8.94" font-weight="normal" font-style="normal" textLength="16.40" lengthAdjust="spacingAndGlyphs" fill="#111" stroke="#111" stroke-width="0.25">Saline</text>
<text x="393.60" y="228.00" font-family='"Liberation Serif", serif' font-size="8.94" font-weight="normal" font-style="normal" textLength="26.40" lengthAdjust="spacingAndGlyphs" fill="#111" stroke="#111" stroke-width="0.25">Obestatin</text>
<text x="393.50" y="303.90" font-family='"Liberation Serif", serif' font-size="8.74" font-weight="normal" font-style="normal" textLength="3.60" lengthAdjust="spacingAndGlyphs" fill="#111" stroke="#111" stroke-width="0.4">0</text>
<text x="437.40" y="303.90" font-family='"Liberation Serif", serif' font-size="8.74" font-weight="normal" font-style="normal" textLength="7.20" lengthAdjust="spacingAndGlyphs" fill="#111" stroke="#111" stroke-width="0.4">30</text>
<text x="481.90" y="303.90" font-family='"Liberation Serif", serif' font-size="8.74" font-weight="normal" font-style="normal" textLength="7.60" lengthAdjust="spacingAndGlyphs" fill="#111" stroke="#111" stroke-width="0.4">60</text>
<text x="419.10" y="314.90" font-family='"Liberation Serif", serif' font-size="8.64" font-weight="normal" font-style="normal" textLength="44.10" lengthAdjust="spacingAndGlyphs" fill="#111" stroke="#111" stroke-width="0.25">Time (Minutes)</text>
<text transform="translate(358.90,242.25) scale(1.053,1) rotate(-90)" x="0" y="0" text-anchor="middle" font-family='"Liberation Serif", serif' font-size="8.06" textLength="72.50" lengthAdjust="spacingAndGlyphs" fill="#111" stroke="#111" stroke-width="0.15">Blood glucose (mg/dl)</text>
<path d="M397.4 183.5 H399.1 M401.6 180.1 L399.9 185.5 M401.1 183.6 H402.8 M405.5 187.3 H407.7" stroke="#1a1a1a" stroke-width="0.85" fill="none"/>
<line x1="550.45" y1="273.50" x2="550.45" y2="269.50" stroke="#333" stroke-width="0.9"/>
<line x1="549.05" y1="269.50" x2="551.85" y2="269.50" stroke="#333" stroke-width="0.9"/>
<line x1="566.95" y1="274.50" x2="566.95" y2="268.30" stroke="#333" stroke-width="0.9"/>
<line x1="565.55" y1="268.30" x2="568.35" y2="268.30" stroke="#333" stroke-width="0.9"/>
<line x1="595.85" y1="253.20" x2="595.85" y2="239.40" stroke="#333" stroke-width="0.9"/>
<line x1="594.45" y1="239.40" x2="597.25" y2="239.40" stroke="#333" stroke-width="0.9"/>
<line x1="613.15" y1="246.40" x2="613.15" y2="232.60" stroke="#333" stroke-width="0.9"/>
<line x1="611.75" y1="232.60" x2="614.55" y2="232.60" stroke="#333" stroke-width="0.9"/>
<line x1="642.05" y1="245.90" x2="642.05" y2="228.10" stroke="#333" stroke-width="0.9"/>
<line x1="640.65" y1="228.10" x2="643.45" y2="228.10" stroke="#333" stroke-width="0.9"/>
<line x1="659.05" y1="240.20" x2="659.05" y2="226.30" stroke="#333" stroke-width="0.9"/>
<line x1="657.65" y1="226.30" x2="660.45" y2="226.30" stroke="#333" stroke-width="0.9"/>
<line x1="535.30" y1="195.70" x2="535.30" y2="295.10" stroke="#555" stroke-width="1.5"/>
<line x1="534.60" y1="294.40" x2="673.00" y2="294.40" stroke="#555" stroke-width="1.5"/>
<line x1="533.30" y1="294.40" x2="535.30" y2="294.40" stroke="#555" stroke-width="1.1"/>
<line x1="533.30" y1="261.50" x2="535.30" y2="261.50" stroke="#555" stroke-width="1.1"/>
<line x1="533.30" y1="228.60" x2="535.30" y2="228.60" stroke="#555" stroke-width="1.1"/>
<line x1="533.30" y1="195.70" x2="535.30" y2="195.70" stroke="#555" stroke-width="1.1"/>
<text x="528.80" y="297.30" font-family='"Liberation Serif", serif' font-size="8.59" font-weight="normal" font-style="normal" textLength="4.30" lengthAdjust="spacingAndGlyphs" fill="#111" stroke="#111" stroke-width="0.3">0</text>
<text x="528.80" y="264.40" font-family='"Liberation Serif", serif' font-size="8.59" font-weight="normal" font-style="normal" textLength="4.30" lengthAdjust="spacingAndGlyphs" fill="#111" stroke="#111" stroke-width="0.3">1</text>
<text x="528.80" y="231.50" font-family='"Liberation Serif", serif' font-size="8.59" font-weight="normal" font-style="normal" textLength="4.30" lengthAdjust="spacingAndGlyphs" fill="#111" stroke="#111" stroke-width="0.3">2</text>
<text x="528.80" y="198.60" font-family='"Liberation Serif", serif' font-size="8.59" font-weight="normal" font-style="normal" textLength="4.30" lengthAdjust="spacingAndGlyphs" fill="#111" stroke="#111" stroke-width="0.3">3</text>
<text x="520.30" y="178.40" font-family='"Liberation Serif", serif' font-size="11.82" font-weight="bold" font-style="normal" textLength="8.50" lengthAdjust="spacingAndGlyphs" fill="#111" stroke="#111" stroke-width="0.25">H</text>
<text x="540.80" y="189.20" font-family='"Liberation Sans", sans-serif' font-size="8.66" font-weight="normal" font-style="italic" textLength="19.20" lengthAdjust="spacingAndGlyphs" fill="#111" stroke="#111" stroke-width="0.2">Ghsr</text>
<text x="576.90" y="189.20" font-family='"Liberation Serif", serif' font-size="9.39" font-weight="normal" font-style="normal" textLength="26.10" lengthAdjust="spacingAndGlyphs" fill="#111" stroke="#111" stroke-width="0.1">Insulin</text>
<text x="555.10" y="220.80" font-family='"Liberation Serif", serif' font-size="8.94" font-weight="normal" font-style="normal" textLength="19.30" lengthAdjust="spacingAndGlyphs" fill="#111" stroke="#111" stroke-width="0.25">Saline</text>
<text x="555.10" y="229.40" font-family='"Liberation Serif", serif' font-size="8.94" font-weight="normal" font-style="normal" textLength="30.10" lengthAdjust="spacingAndGlyphs" fill="#111" stroke="#111" stroke-width="0.25">Obestatin</text>
<text x="556.00" y="304.20" font-family='"Liberation Serif", serif' font-size="9.19" font-weight="normal" font-style="normal" textLength="4.10" lengthAdjust="spacingAndGlyphs" fill="#111" stroke="#111" stroke-width="0.4">0</text>
<text x="600.10" y="304.20" font-family='"Liberation Serif", serif' font-size="9.19" font-weight="normal" font-style="normal" textLength="8.00" lengthAdjust="spacingAndGlyphs" fill="#111" stroke="#111" stroke-width="0.4">30</text>
<text x="646.00" y="304.20" font-family='"Liberation Serif", serif' font-size="9.19" font-weight="normal" font-style="normal" textLength="8.00" lengthAdjust="spacingAndGlyphs" fill="#111" stroke="#111" stroke-width="0.4">60</text>
<text x="581.40" y="315.80" font-family='"Liberation Serif", serif' font-size="8.18" font-weight="normal" font-style="normal" textLength="46.30" lengthAdjust="spacingAndGlyphs" fill="#111" stroke="#111" stroke-width="0.25">Time (Minutes)</text>
<text transform="translate(524.60,243.70) scale(1.152,1) rotate(-90)" x="0" y="0" text-anchor="middle" font-family='"Liberation Serif", serif' font-size="7.76" textLength="46.80" lengthAdjust="spacingAndGlyphs" fill="#111" stroke="#111" stroke-width="0.15">Insulin (ng/ml)</text>
<path d="M562.7 182.8 H564.7 M566.8 179.4 L565.2 184.6 M567.3 182.9 H568.8 M571.9 186.5 H574.1" stroke="#1a1a1a" stroke-width="0.85" fill="none"/>
</g>
</svg></body></html>
